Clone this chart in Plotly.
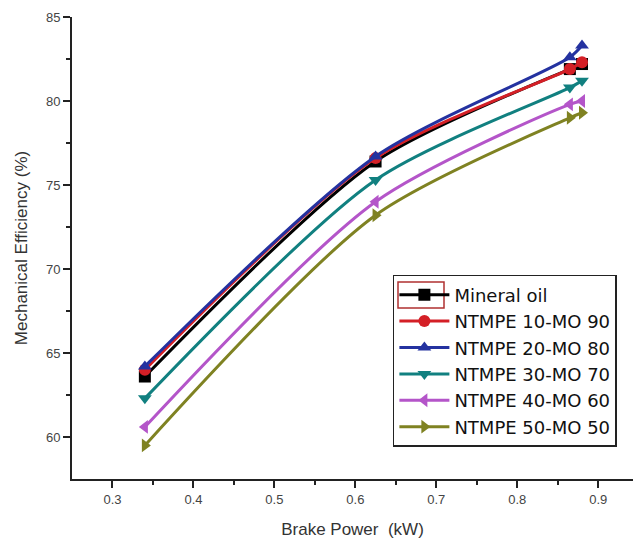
import plotly.graph_objects as go

brake_power = [0.34, 0.625, 0.865, 0.88]

series_names = [
    "Mineral oil",
    "NTMPE 10-MO 90",
    "NTMPE 20-MO 80",
    "NTMPE 30-MO 70",
    "NTMPE 40-MO 60",
    "NTMPE 50-MO 50",
]
mineral_oil = [63.6, 76.4, 81.9, 82.2]
ntmpe_10 = [64.0, 76.6, 81.9, 82.3]
ntmpe_20 = [64.2, 76.7, 82.6, 83.3]
ntmpe_30 = [62.3, 75.3, 80.8, 81.2]
ntmpe_40 = [60.6, 74.0, 79.8, 80.0]
ntmpe_50 = [59.5, 73.2, 79.0, 79.3]

values = [mineral_oil, ntmpe_10, ntmpe_20, ntmpe_30, ntmpe_40, ntmpe_50]
colors = ["#000000", "#d41f26", "#2432a0", "#118080", "#b455c9", "#7f8222"]
symbols = ["square", "circle", "triangle-up", "triangle-down", "triangle-left", "triangle-right"]

fig = go.Figure()
for name, vals, col, sym in zip(series_names, values, colors, symbols):
    fig.add_trace(go.Scatter(
        x=brake_power, y=vals, name=name, mode="lines+markers",
        line=dict(color=col, width=3, shape="spline", smoothing=0.8),
        marker=dict(symbol=sym, size=12, color=col),
    ))

font_family = "Liberation Sans, Arial, sans-serif"

def px_x(p):
    return (p - 72) / 561

def px_y(p):
    return (479 - p) / 462

fig.update_layout(
    width=633, height=545,
    margin=dict(l=72, r=0, t=17, b=66),
    paper_bgcolor="white", plot_bgcolor="white",
    font=dict(family=font_family, color="#222222"),
    showlegend=True,
    legend=dict(
        x=0.572, y=0.4416, xanchor="left", yanchor="top",
        bgcolor="rgba(255,255,255,0)", bordercolor="#222222", borderwidth=1.5,
        font=dict(size=18, family="DejaVu Sans, sans-serif", color="#111111"),
        tracegroupgap=0, itemwidth=50,
    ),
    shapes=[dict(type="rect", xref="paper", yref="paper",
                 x0=px_x(398), x1=px_x(444), y0=px_y(308), y1=px_y(282),
                 line=dict(color="#b03030", width=1.5), fillcolor="rgba(0,0,0,0)")],
    xaxis=dict(
        range=[0.25, 0.943], tickvals=[0.3, 0.4, 0.5, 0.6, 0.7, 0.8, 0.9],
        ticktext=["0.3", "0.4", "0.5", "0.6", "0.7", "0.8", "0.9"],
        ticks="outside", ticklen=7, tickwidth=1.5, tickcolor="#222222",
        showline=True, linecolor="#222222", linewidth=2,
        showgrid=False, zeroline=False,
        minor=dict(tickvals=[0.35, 0.45, 0.55, 0.65, 0.75, 0.85], ticks="outside",
                   ticklen=4, tickwidth=1.5, tickcolor="#222222"),
        tickfont=dict(size=13, color="#444444"),
        title=dict(text="Brake Power  (kW)", font=dict(size=17, color="#333333"), standoff=18),
    ),
    yaxis=dict(
        range=[57.5, 85], tickvals=[60, 65, 70, 75, 80, 85],
        ticks="outside", ticklen=7, tickwidth=1.5, tickcolor="#222222",
        showline=True, linecolor="#222222", linewidth=2,
        showgrid=False, zeroline=False,
        minor=dict(tickvals=[62.5, 67.5, 72.5, 77.5, 82.5], ticks="outside",
                   ticklen=4, tickwidth=1.5, tickcolor="#222222"),
        tickfont=dict(size=13, color="#444444"),
        title=dict(text="Mechanical Efficiency (%)", font=dict(size=17, color="#333333"), standoff=14),
    ),
)

fig.write_html("out.html")
